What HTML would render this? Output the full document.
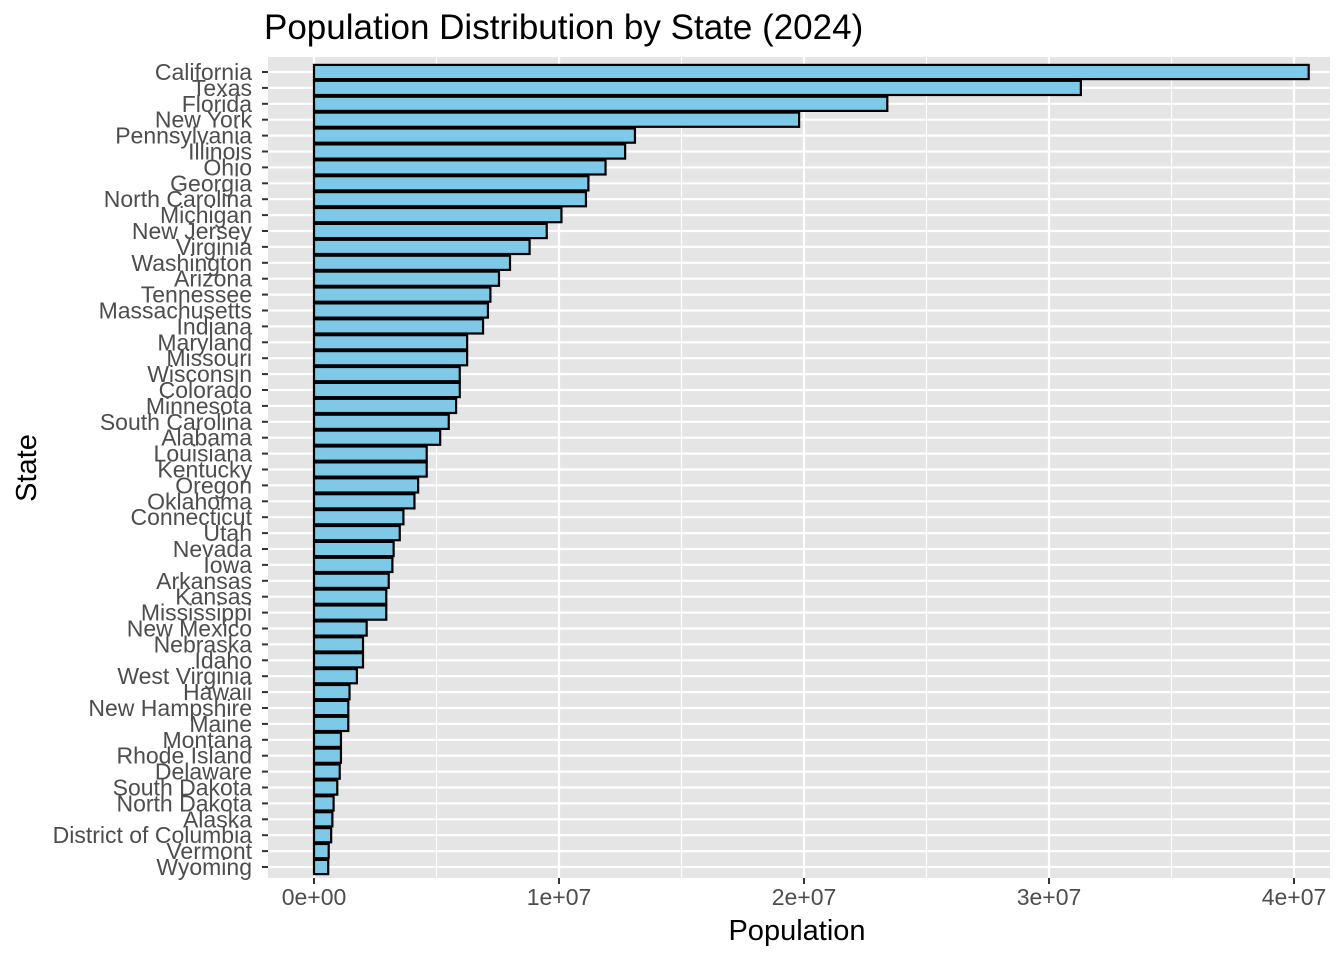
<!DOCTYPE html>
<html><head><meta charset="utf-8"><style>
body{margin:0;background:#fff;}
svg{display:block;font-family:"Liberation Sans",Arial,sans-serif;}
</style></head><body>
<svg id="chart" width="1344" height="960" xmlns="http://www.w3.org/2000/svg">
<rect width="1344" height="960" fill="#fff"/>
<text x="264" y="39" font-size="35" fill="#000">Population Distribution by State (2024)</text>
<rect x="268" y="57" width="1062" height="821" fill="#e5e5e5"/>
<g id="grid"></g><g id="bars"></g><g id="yaxis"></g><g id="xaxis"></g>
<text x="797" y="940" font-size="29" text-anchor="middle" fill="#000">Population</text>
<text transform="translate(36,468) rotate(-90)" font-size="29" text-anchor="middle" fill="#000">State</text>
</svg>
<script>
const states=["California","Texas","Florida","New York","Pennsylvania","Illinois","Ohio","Georgia","North Carolina","Michigan","New Jersey","Virginia","Washington","Arizona","Tennessee","Massachusetts","Indiana","Maryland","Missouri","Wisconsin","Colorado","Minnesota","South Carolina","Alabama","Louisiana","Kentucky","Oregon","Oklahoma","Connecticut","Utah","Nevada","Iowa","Arkansas","Kansas","Mississippi","New Mexico","Nebraska","Idaho","West Virginia","Hawaii","New Hampshire","Maine","Montana","Rhode Island","Delaware","South Dakota","North Dakota","Alaska","District of Columbia","Vermont","Wyoming"];
const population=[40.6e6,31.3e6,23.4e6,19.8e6,13.1e6,12.7e6,11.9e6,11.2e6,11.1e6,10.1e6,9.5e6,8.8e6,8.0e6,7.55e6,7.2e6,7.1e6,6.9e6,6.25e6,6.25e6,5.95e6,5.95e6,5.8e6,5.5e6,5.15e6,4.6e6,4.6e6,4.25e6,4.1e6,3.65e6,3.5e6,3.25e6,3.2e6,3.05e6,2.95e6,2.95e6,2.15e6,2.0e6,2.0e6,1.75e6,1.45e6,1.4e6,1.4e6,1.1e6,1.1e6,1.05e6,0.95e6,0.8e6,0.75e6,0.7e6,0.6e6,0.58e6];
const xTicks=[0,1e7,2e7,3e7,4e7];
const xTickLabels=["0e+00","1e+07","2e+07","3e+07","4e+07"];
const NS="http://www.w3.org/2000/svg";
const x=v=>314+v*(980/4e7);
const y=i=>72+i*(795/50);
function mk(t,a,p){const e=document.createElementNS(NS,t);for(const k in a)e.setAttribute(k,a[k]);p.appendChild(e);return e;}
const grid=document.getElementById('grid'),bars=document.getElementById('bars'),ya=document.getElementById('yaxis'),xa=document.getElementById('xaxis');
for(let k=0;k<xTicks.length-1;k++){const m=(xTicks[k]+xTicks[k+1])/2;
 const l=mk('line',{x1:x(m),x2:x(m),y1:57,y2:878,stroke:'#fff','stroke-width':1.1},grid);
 
 }
xTicks.forEach((v,k)=>{
 const l=mk('line',{x1:x(v),x2:x(v),y1:57,y2:878,stroke:'#fff','stroke-width':2.2},grid);
 
 
 const t=mk('line',{x1:x(v),x2:x(v),y1:878,y2:884,stroke:'#333','stroke-width':2},xa);
 
 
 const tx=mk('text',{x:x(v),y:905,'font-size':23,'text-anchor':'middle',fill:'#4d4d4d'},xa);
 tx.textContent=xTickLabels[k];
 
 
});
states.forEach((s,i)=>{
 const g=mk('line',{x1:268,x2:1330,y1:y(i),y2:y(i),stroke:'#fff','stroke-width':2.2},grid);
 
 
 const r=mk('rect',{x:x(0),y:y(i)-7.1,width:x(population[i])-x(0),height:14.2,fill:'#7ec8e8',stroke:'#000','stroke-width':2.2},bars);
 
 
 const t=mk('line',{x1:262,x2:268,y1:y(i),y2:y(i),stroke:'#333','stroke-width':2},ya);
 
 
 const tx=mk('text',{x:252,y:y(i)+8,'font-size':23,'text-anchor':'end',fill:'#4d4d4d'},ya);
 tx.textContent=s;
 
 
});
</script>
</body></html>
